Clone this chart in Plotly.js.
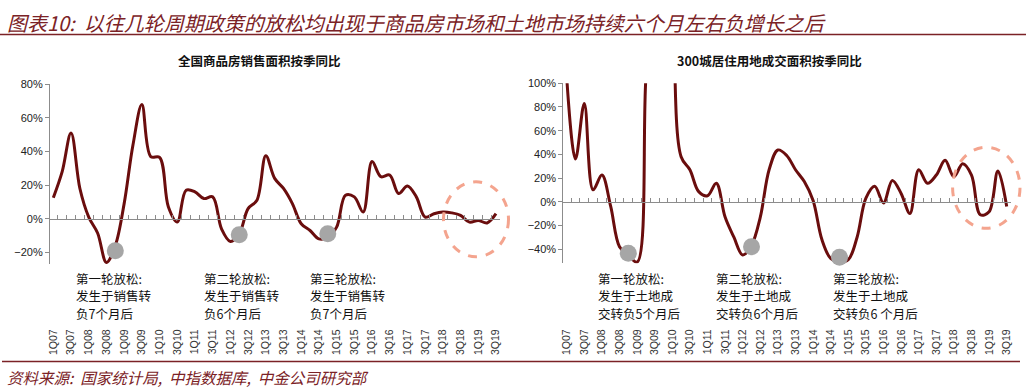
<!DOCTYPE html>
<html>
<head>
<meta charset="utf-8">
<script src="https://cdn.plot.ly/plotly-3.0.1.min.js"></script>
<style>html,body{margin:0;padding:0;background:#fff;}#chart{width:1026px;height:388px;}</style>
</head>
<body>
<div id="chart"></div>
<script>
// ---------- DATA ----------
const quarters = ['1Q07','2Q07','3Q07','4Q07','1Q08','2Q08','3Q08','4Q08','1Q09','2Q09','3Q09','4Q09',
  '1Q10','2Q10','3Q10','4Q10','1Q11','2Q11','3Q11','4Q11','1Q12','2Q12','3Q12','4Q12',
  '1Q13','2Q13','3Q13','4Q13','1Q14','2Q14','3Q14','4Q14','1Q15','2Q15','3Q15','4Q15',
  '1Q16','2Q16','3Q16','4Q16','1Q17','2Q17','3Q17','4Q17','1Q18','2Q18','3Q18','4Q18',
  '1Q19','2Q19','3Q19'];
// 全国商品房销售面积按季同比
const salesYoY = [0.125,0.28,0.51,0.18,0.01,-0.085,-0.26,-0.16,0.09,0.44,0.68,0.37,
  0.365,0.07,-0.02,0.17,0.16,0.12,0.13,-0.06,-0.135,-0.09,0.06,0.11,
  0.375,0.24,0.18,0.09,-0.03,-0.07,-0.12,-0.11,-0.05,0.14,0.13,0.04,
  0.34,0.25,0.26,0.15,0.195,0.13,0.01,0.03,0.04,0.035,0.02,-0.02,
  -0.01,-0.025,0.03];
// 300城居住用地成交面积按季同比
const landYoY = [1.05,0.36,0.83,0.10,0.225,-0.04,-0.38,-0.45,-0.51,1.05,2.0,2.3,
  1.7,0.38,0.27,0.085,0.05,0.155,-0.13,-0.30,-0.45,-0.37,-0.13,0.27,
  0.437,0.39,0.27,0.17,0.01,-0.32,-0.48,-0.51,-0.49,-0.30,0.03,0.13,
  -0.01,0.18,0.07,-0.10,0.27,0.155,0.225,0.35,0.21,0.32,0.225,-0.11,
  -0.085,0.26,-0.04];
// 放松时点标记
const salesEaseQuarters = ['4Q08','2Q12','4Q14'];
const salesEaseValues = [-0.19,-0.095,-0.09];
const landEaseQuarters = ['4Q08','2Q12','4Q14'];
const landEaseValues = [-0.436,-0.38,-0.47];

const headerText = '图表10:  以往几轮周期政策的放松均出现于商品房市场和土地市场持续六个月左右负增长之后';
const leftTitle = '全国商品房销售面积按季同比';
const rightTitle = '300城居住用地成交面积按季同比';
const sourceText = '资料来源:  国家统计局,  中指数据库,  中金公司研究部';
const leftNotes = [['第一轮放松:','发生于销售转','负7个月后'],['第二轮放松:','发生于销售转','负6个月后'],['第三轮放松:','发生于销售转','负7个月后']];
const rightNotes = [['第一轮放松:','发生于土地成','交转负5个月后'],['第二轮放松:','发生于土地成','交转负6个月后'],['第三轮放松:','发生于土地成','交转负6 个月后']];

// ---------- BUILD ----------
const idx = quarters.map((q,i)=>i);
const labelVals = idx.filter(i => quarters[i][0]==='1' || quarters[i][0]==='3');
const labelText = labelVals.map(i => quarters[i]);
const betweenTicks = [];
for (let i=0;i<=quarters.length;i++) betweenTicks.push(i-0.5);
const xr = [-0.5, quarters.length-0.5];

const LINE = '#6a0d0d';
const GRAY = '#a6a6a6';
const AX = '#8c8c8c';
const RED = '#7b2226';
const CJK = '"Noto Sans CJK SC", "Noto Sans", sans-serif';
const LAT = '"Liberation Sans", Arial, sans-serif';

const yL = {dom:[0.31933,0.78273], r:[-0.27,0.8]};
const yR = {dom:[0.32147,0.78531], r:[-0.52,1.0]};
function zeroPos(y){ return y.dom[0] + (0-y.r[0])/(y.r[1]-y.r[0])*(y.dom[1]-y.dom[0]); }

const traces = [
  {x: idx, y: salesYoY, xaxis:'x', yaxis:'y', type:'scatter', mode:'lines',
   line:{color:LINE, width:3, shape:'spline', smoothing:1}, hoverinfo:'skip'},
  {x: salesEaseQuarters.map(q=>quarters.indexOf(q)), y: salesEaseValues, xaxis:'x3', yaxis:'y', type:'scatter', mode:'markers',
   marker:{color:GRAY, size:17}, cliponaxis:false, hoverinfo:'skip'},
  {x: idx, y: landYoY, xaxis:'x2', yaxis:'y2', type:'scatter', mode:'lines',
   line:{color:LINE, width:3, shape:'spline', smoothing:1}, hoverinfo:'skip'},
  {x: landEaseQuarters.map(q=>quarters.indexOf(q)), y: landEaseValues, xaxis:'x4', yaxis:'y2', type:'scatter', mode:'markers',
   marker:{color:GRAY, size:17}, cliponaxis:false, hoverinfo:'skip'}
];

function zeroAxis(dom, pos){
  return {domain:dom, range:xr, anchor:'free', position:pos, showline:true, linecolor:AX, linewidth:1,
    tickmode:'array', tickvals:betweenTicks, ticks:'inside', ticklen:4, tickcolor:AX,
    showticklabels:false, showgrid:false, zeroline:false, fixedrange:true};
}
function labelAxis(dom, overlay){
  return {domain:dom, range:xr, anchor:'free', position:0.159, overlaying:overlay, showline:false,
    tickmode:'array', tickvals:labelVals, ticktext:labelText, tickangle:-90, ticks:'',
    tickfont:{family:LAT, size:10.5, color:'#333'}, showgrid:false, zeroline:false, fixedrange:true};
}
function yAxis(y, anchor){
  return {domain:y.dom, range:y.r, anchor:anchor, dtick:0.2, tick0:0, tickformat:'.0%',
    showline:true, linecolor:AX, linewidth:1, ticks:'outside', ticklen:4, tickcolor:AX,
    tickfont:{family:LAT, size:11, color:'#222'}, showgrid:false, zeroline:false, fixedrange:true};
}

const xdL = [48.9/1026, 500.4/1026];
const xdR = [562.3/1026, 1011.1/1026];

const annotations = [
  {text:headerText, x:5/1026, y:1-22/388, xref:'paper', yref:'paper', xanchor:'left', yanchor:'middle', showarrow:false,
   font:{family:CJK, size:20, color:RED, style:'italic'}},
  {text:'<b>'+leftTitle+'</b>', x:259/1026, y:1-60/388, xref:'paper', yref:'paper', xanchor:'center', yanchor:'middle', showarrow:false,
   font:{family:CJK, size:12.5, color:'#111'}},
  {text:'<b>'+rightTitle+'</b>', x:769.5/1026, y:1-60/388, xref:'paper', yref:'paper', xanchor:'center', yanchor:'middle', showarrow:false,
   font:{family:CJK, size:12.5, color:'#111'}},
  {text:sourceText, x:5/1026, y:1-377/388, xref:'paper', yref:'paper', xanchor:'left', yanchor:'middle', showarrow:false,
   font:{family:CJK, size:15.5, color:RED, style:'italic'}}
];
const lx = [75,203,309], rx = [597,715,832];
const lineY = [278, 295.8, 313.6];
function addNotes(notes, xs){
  notes.forEach((lines,i)=>lines.forEach((t,j)=>annotations.push({text:t, x:xs[i]/1026, y:1-lineY[j]/388,
    xref:'paper', yref:'paper', xanchor:'left', yanchor:'middle', align:'left', showarrow:false, borderpad:0,
    font:{family:CJK, size:12.5, color:'#111'}})));
}
addNotes(leftNotes, lx);
addNotes(rightNotes, rx);

const shapes = [
  {type:'line', xref:'paper', yref:'paper', x0:0, x1:1, y0:1-34.5/388, y1:1-34.5/388, line:{color:RED, width:1.5}},
  {type:'line', xref:'paper', yref:'paper', x0:2/1026, x1:1020/1026, y0:1-361.5/388, y1:1-361.5/388, line:{color:RED, width:1.5}},
  {type:'circle', xref:'paper', yref:'paper', x0:443.5/1026, x1:508.5/1026, y0:0.33814, y1:0.53144,
   line:{color:'#f4a48e', width:3, dash:'dash'}},
  {type:'circle', xref:'paper', yref:'paper', x0:952.6/1026, x1:1020/1026, y0:0.41160, y1:0.62036,
   line:{color:'#f4a48e', width:3, dash:'dash'}}
];

const layout = {
  width:1026, height:388, margin:{l:0,r:0,t:0,b:0}, showlegend:false,
  paper_bgcolor:'#fff', plot_bgcolor:'rgba(0,0,0,0)',
  xaxis: zeroAxis(xdL, zeroPos(yL)),
  xaxis2: zeroAxis(xdR, zeroPos(yR)),
  xaxis3: labelAxis(xdL, 'x'),
  xaxis4: labelAxis(xdR, 'x2'),
  yaxis: yAxis(yL, 'free'),
  yaxis2: yAxis(yR, 'free'),
  annotations: annotations,
  shapes: shapes
};
layout.yaxis.position = xdL[0];
layout.yaxis2.position = xdR[0];

Plotly.newPlot('chart', traces, layout, {staticPlot:true, displayModeBar:false});
</script>
</body>
</html>
